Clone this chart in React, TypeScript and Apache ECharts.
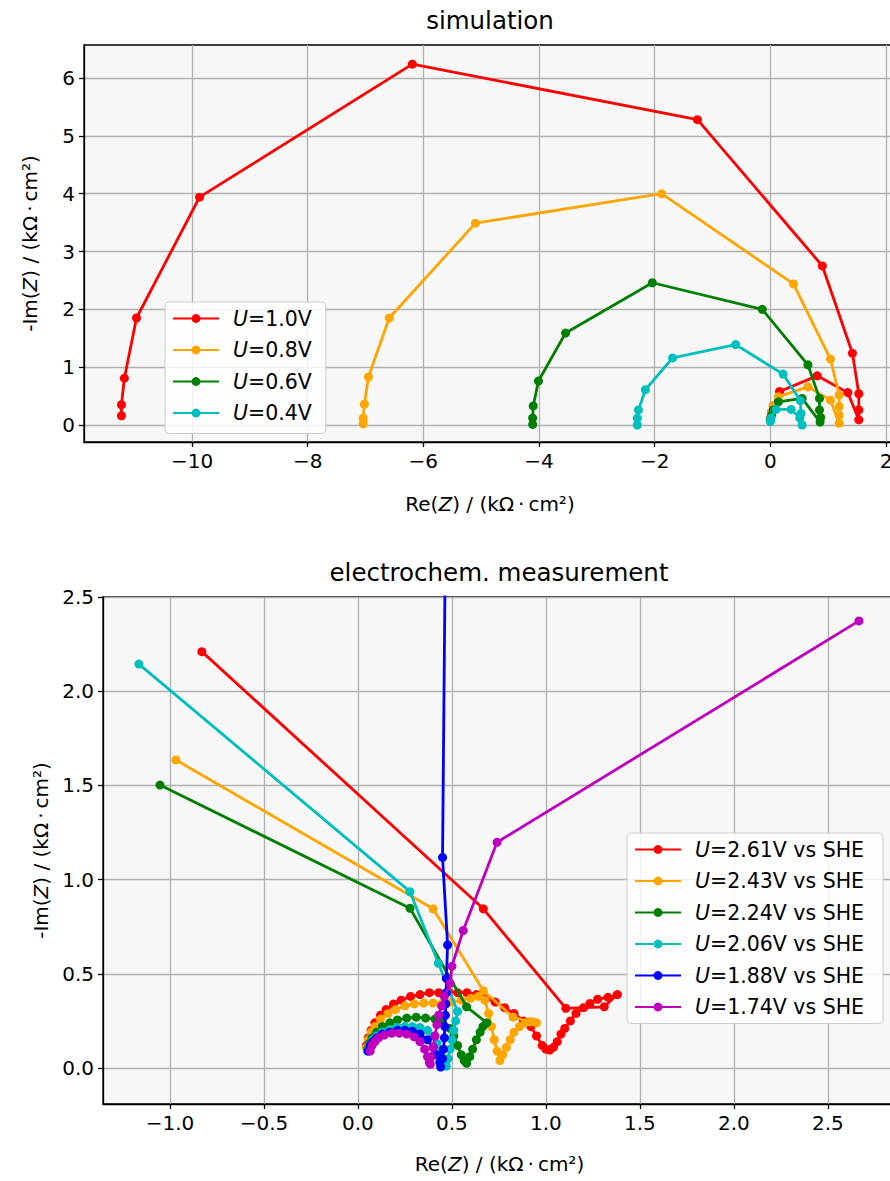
import React, { useEffect, useRef } from "react";
import * as echarts from "echarts";

// ---------- simulation (top) ----------
const simNames = ["U=1.0V", "U=0.8V", "U=0.6V", "U=0.4V"];
const simColors = ["#ff0000", "#ffa500", "#008000", "#00bfbf"];
const simU10 = [
  [0.0, 0.12], [0.02, 0.22], [0.05, 0.33], [0.16, 0.58], [0.81, 0.85], [1.34, 0.56],
  [1.53, 0.09], [1.53, 0.26], [1.53, 0.54], [1.42, 1.24], [0.9, 2.75], [-1.26, 5.28],
  [-6.19, 6.24], [-9.87, 3.94], [-10.96, 1.85], [-11.17, 0.81], [-11.22, 0.35], [-11.22, 0.16],
];
const simU08 = [
  [0.0, 0.1], [0.02, 0.22], [0.05, 0.33], [0.14, 0.49], [0.65, 0.66], [1.04, 0.43],
  [1.19, 0.03], [1.19, 0.17], [1.19, 0.32], [1.19, 0.52], [1.04, 1.14], [0.4, 2.44],
  [-1.88, 4.0], [-5.1, 3.49], [-6.59, 1.85], [-6.95, 0.83], [-7.02, 0.36], [-7.04, 0.12], [-7.04, 0.02],
];
const simU06 = [
  [0.0, 0.08], [0.02, 0.17], [0.05, 0.26], [0.14, 0.4], [0.55, 0.46], [0.86, 0.05],
  [0.87, 0.13], [0.85, 0.26], [0.85, 0.46], [0.65, 1.04], [-0.14, 2.0], [-2.04, 2.46],
  [-3.54, 1.59], [-4.01, 0.76], [-4.1, 0.33], [-4.11, 0.12], [-4.11, 0.01],
];
const simU04 = [
  [0.0, 0.06], [0.01, 0.12], [0.1, 0.27], [0.36, 0.27], [0.51, 0.12], [0.55, 0.0],
  [0.53, 0.2], [0.52, 0.42], [0.22, 0.88], [-0.6, 1.39], [-1.69, 1.16], [-2.16, 0.61],
  [-2.28, 0.26], [-2.3, 0.12], [-2.3, 0.0],
];
const simData = [simU10, simU08, simU06, simU04];
const simXTicks = [-10, -8, -6, -4, -2, 0, 2];
const simYTicks = [0, 1, 2, 3, 4, 5, 6];

// ---------- measurement (bottom) ----------
const measNames = [
  "U=2.61V vs SHE", "U=2.43V vs SHE", "U=2.24V vs SHE",
  "U=2.06V vs SHE", "U=1.88V vs SHE", "U=1.74V vs SHE",
];
const measColors = ["#ff0000", "#ffa500", "#008000", "#00bfbf", "#0000ff", "#bf00bf"];
const meas261 = [
  [0.045, 0.12], [0.055, 0.16], [0.07, 0.2], [0.09, 0.24], [0.12, 0.28], [0.15, 0.31],
  [0.19, 0.34], [0.23, 0.36], [0.28, 0.38], [0.33, 0.39], [0.38, 0.4], [0.43, 0.4],
  [0.48, 0.405], [0.53, 0.4], [0.58, 0.4], [0.63, 0.39], [0.68, 0.37], [0.73, 0.35],
  [0.78, 0.32], [0.83, 0.29], [0.88, 0.25], [0.92, 0.22], [0.95, 0.17], [0.98, 0.12],
  [1.0, 0.1], [1.02, 0.095], [1.04, 0.11], [1.06, 0.14], [1.08, 0.18], [1.1, 0.21],
  [1.13, 0.25], [1.16, 0.29], [1.2, 0.32], [1.234, 0.343], [1.275, 0.365], [1.33, 0.375],
  [1.38, 0.39], [1.31, 0.325], [1.106, 0.317], [0.667, 0.845], [-0.83, 2.21],
];
const meas243 = [
  [0.045, 0.11], [0.055, 0.15], [0.07, 0.19], [0.09, 0.22], [0.12, 0.26], [0.16, 0.29],
  [0.2, 0.31], [0.25, 0.33], [0.3, 0.34], [0.35, 0.345], [0.4, 0.345], [0.45, 0.345],
  [0.5, 0.35], [0.55, 0.36], [0.6, 0.37], [0.64, 0.38], [0.675, 0.36], [0.695, 0.29],
  [0.71, 0.22], [0.725, 0.15], [0.74, 0.09], [0.755, 0.04], [0.77, 0.07], [0.79, 0.11],
  [0.81, 0.15], [0.83, 0.19], [0.86, 0.22], [0.89, 0.24], [0.93, 0.245], [0.95, 0.24],
  [0.915, 0.245], [0.825, 0.27], [0.667, 0.41], [0.4, 0.845], [-0.968, 1.635],
];
const meas224 = [
  [0.05, 0.1], [0.06, 0.13], [0.075, 0.16], [0.1, 0.19], [0.13, 0.22], [0.17, 0.24],
  [0.21, 0.255], [0.26, 0.265], [0.31, 0.27], [0.36, 0.265], [0.41, 0.26], [0.45, 0.24],
  [0.49, 0.21], [0.51, 0.17], [0.53, 0.12], [0.55, 0.07], [0.565, 0.04], [0.578, 0.025],
  [0.595, 0.06], [0.61, 0.1], [0.63, 0.15], [0.65, 0.19], [0.665, 0.22], [0.685, 0.24],
  [0.578, 0.325], [0.277, 0.848], [-1.053, 1.502],
];
const meas206 = [
  [0.05, 0.09], [0.06, 0.12], [0.08, 0.15], [0.1, 0.17], [0.13, 0.19], [0.17, 0.205],
  [0.21, 0.215], [0.25, 0.22], [0.29, 0.22], [0.33, 0.215], [0.37, 0.2], [0.4, 0.17],
  [0.42, 0.13], [0.44, 0.08], [0.455, 0.04], [0.47, 0.01], [0.48, 0.05], [0.49, 0.1],
  [0.5, 0.15], [0.51, 0.2], [0.52, 0.25], [0.53, 0.3], [0.428, 0.556], [0.277, 0.936],
  [-1.165, 2.144],
];
const meas188 = [
  [0.055, 0.09], [0.065, 0.12], [0.08, 0.14], [0.1, 0.16], [0.13, 0.18], [0.17, 0.19],
  [0.21, 0.2], [0.25, 0.2], [0.29, 0.195], [0.33, 0.18], [0.37, 0.15], [0.4, 0.11],
  [0.42, 0.07], [0.435, 0.03], [0.44, 0.005], [0.45, 0.05], [0.455, 0.1], [0.46, 0.16],
  [0.462, 0.22], [0.465, 0.28], [0.467, 0.34], [0.47, 0.4], [0.47, 0.476], [0.477, 0.653],
  [0.45, 1.118], [0.485, 5.0],
];
const meas174 = [
  [0.065, 0.09], [0.075, 0.12], [0.09, 0.14], [0.11, 0.16], [0.14, 0.175], [0.18, 0.185],
  [0.22, 0.185], [0.26, 0.18], [0.3, 0.165], [0.33, 0.14], [0.355, 0.1], [0.37, 0.06],
  [0.38, 0.03], [0.385, 0.02], [0.39, 0.06], [0.4, 0.11], [0.41, 0.17], [0.42, 0.23],
  [0.43, 0.28], [0.445, 0.33], [0.46, 0.38], [0.49, 0.45], [0.5, 0.54], [0.56, 0.73],
  [0.74, 1.198], [2.665, 2.373],
];
const measData = [meas261, meas243, meas224, meas206, meas188, meas174];
const measXTicks = [-1.0, -0.5, 0.0, 0.5, 1.0, 1.5, 2.0, 2.5];
const measYTicks = [0.0, 0.5, 1.0, 1.5, 2.0, 2.5];

const FONT = "DejaVu Sans";
const FS = 20;
const LFS = 20.5;
const rich = (fs: number) => ({
  i: { fontStyle: "italic", fontSize: fs, fontFamily: FONT, color: "#000" },
  n: { fontSize: fs, fontFamily: FONT, color: "#000" },
});

const minus = (s: string) => s.replace("-", "\u2212");

function axis(
  gridIndex: number, min: number, max: number, ticks: number[],
  fmt: (v: number) => string, name: string, nameGap: number, isY: boolean
) {
  return {
    type: "value",
    gridIndex, min, max,
    name, nameLocation: "middle", nameGap,
    nameRotate: isY ? 90 : 0,
    nameTextStyle: { fontSize: FS, fontFamily: FONT, color: "#000", rich: rich(FS) },
    axisLine: { show: true, onZero: false, lineStyle: { color: "#000", width: 1.3 } },
    axisTick: { show: true, inside: false, length: 5, customValues: ticks, lineStyle: { color: "#000", width: 1.3 } },
    axisLabel: {
      show: true, customValues: ticks, formatter: fmt, color: "#000",
      fontSize: FS, fontFamily: FONT, margin: 9, showMinLabel: true, showMaxLabel: true,
    },
    splitLine: { show: true, lineStyle: { color: "#b0b0b0", width: 1.3 } },
  };
}

function series(name: string, data: number[][], color: string, idx: number, z: number) {
  return {
    type: "line", name, data, xAxisIndex: idx, yAxisIndex: idx,
    symbol: "circle", symbolSize: 9, showSymbol: true, showAllSymbol: true,
    lineStyle: { color, width: 2.8 }, itemStyle: { color },
    emphasis: { disabled: true }, clip: true, z,
  };
}

const legendBase = {
  orient: "vertical", itemWidth: 46, itemHeight: 11, itemGap: 10.5,
  backgroundColor: "rgba(255,255,255,0.85)", borderColor: "#cccccc", borderWidth: 1, borderRadius: 4,
  selectedMode: false,
  textStyle: { fontSize: LFS, fontFamily: FONT, color: "#000", padding: [0, 0, 0, 9], rich: rich(LFS) },
  formatter: (n: string) => `{i|U}{n|${n.slice(1)}}`,
};

const yName = "{n|-Im(}{i|Z}{n|) / (kΩ\u2009·\u2009cm²)}";
const xName = "{n|Re(}{i|Z}{n|) / (kΩ\u2009·\u2009cm²)}";

export default function App() {
  const ref = useRef<HTMLDivElement>(null);
  useEffect(() => {
    if (!ref.current) return;
    const chart = echarts.init(ref.current, null, { renderer: "svg" });
    const option: any = {
      animation: false,
      backgroundColor: "#ffffff",
      grid: [
        { left: 84, top: 45, width: 812, height: 397, show: true, backgroundColor: "#f7f7f7", borderColor: "#000", borderWidth: 1.3, outerBoundsMode: "none", containLabel: false },
        { left: 103, top: 597, width: 793, height: 507, show: true, backgroundColor: "#f7f7f7", borderColor: "#000", borderWidth: 1.3, outerBoundsMode: "none", containLabel: false },
      ],
      xAxis: [
        axis(0, -11.868, 2.173, simXTicks, (v) => minus(String(v)), xName, 52, false),
        axis(1, -1.356, 2.862, measXTicks, (v) => minus(v.toFixed(1)), xName, 50, false),
      ],
      yAxis: [
        axis(0, -0.294, 6.571, simYTicks, (v) => minus(String(v)), yName, 44, true),
        axis(1, -0.191, 2.5, measYTicks, (v) => minus(v.toFixed(1)), yName, 45, true),
      ],
      legend: [
        { ...legendBase, data: simNames, left: 165, top: 302, padding: [6, 14, 10, 7] },
        { ...legendBase, data: measNames, left: 627, top: 833, padding: [6, 19, 6, 7] },
      ],
      graphic: [
        { type: "text", x: 490, y: 20, style: { text: "simulation", fontSize: 24.5, fontFamily: FONT, fill: "#000", align: "center", verticalAlign: "middle" } },
        { type: "text", x: 499, y: 572, style: { text: "electrochem. measurement", fontSize: 24.5, fontFamily: FONT, fill: "#000", align: "center", verticalAlign: "middle" } },
      ],
      series: [
        ...simNames.map((n, i) => series(n, simData[i], simColors[i], 0, 3 + i)),
        ...measNames.map((n, i) => series(n, measData[i], measColors[i], 1, 3 + i)),
      ],
    };
    chart.setOption(option);
    return () => chart.dispose();
  }, []);
  return <div ref={ref} style={{ position: "absolute", left: 0, top: 0, width: 890, height: 1181 }} />;
}
